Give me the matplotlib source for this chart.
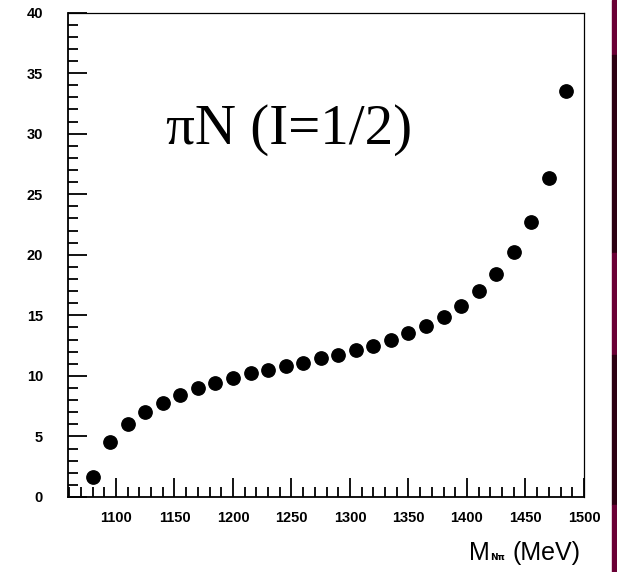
import numpy as np
import matplotlib.pyplot as plt
from matplotlib.patches import Rectangle
from matplotlib.ticker import MultipleLocator

# masa invariante N-pi (MeV) y valores
m_npi = [1080, 1095, 1110, 1125, 1140, 1155, 1170, 1185, 1200, 1215,
         1230, 1245, 1260, 1275, 1290, 1305, 1320, 1335, 1350, 1365,
         1380, 1395, 1410, 1425, 1440, 1455, 1470, 1485]
valores = [1.65, 4.5, 6.0, 7.05, 7.8, 8.4, 9.0, 9.45, 9.85, 10.2,
           10.5, 10.8, 11.1, 11.45, 11.75, 12.1, 12.5, 12.95, 13.5, 14.15,
           14.9, 15.8, 17.0, 18.45, 20.25, 22.7, 26.35, 33.5]
xticks = [1100, 1150, 1200, 1250, 1300, 1350, 1400, 1450, 1500]

fig = plt.figure(figsize=(6.17, 5.72), dpi=100)
ax = fig.add_axes([68/617, 75/572, 516/617, 484.5/572])

ax.plot(m_npi, valores, 'o', color='black', markersize=9.6)

ax.set_xlim(1059, 1500)
ax.set_ylim(0, 40)
ax.set_xticks(xticks)
ax.set_xticklabels([str(t) for t in xticks])
ax.xaxis.set_minor_locator(MultipleLocator(10))
ax.yaxis.set_major_locator(MultipleLocator(5))
ax.yaxis.set_minor_locator(MultipleLocator(1))
ax.tick_params(which='both', direction='in', top=False, right=False, width=1.3)
ax.tick_params(which='major', length=14)
ax.tick_params(which='minor', length=7.5)
ax.tick_params(axis='x', pad=10)
ax.tick_params(axis='y', pad=18)
for lab in ax.get_xticklabels() + ax.get_yticklabels():
    lab.set_fontfamily('Liberation Sans')
    lab.set_fontweight('bold')
    lab.set_fontsize(10.5)

ax.spines['left'].set_linewidth(1.3)
ax.spines['bottom'].set_linewidth(1.3)
ax.spines['top'].set_linewidth(0.9)
ax.spines['right'].set_linewidth(0.9)

fig.text(166/617, 1 - 144/572, 'πN (I=1/2)', fontfamily='Liberation Serif',
         fontsize=41, va='baseline')

# etiqueta del eje x
fig.text(469/617, 1 - 560/572, 'M', fontfamily='Liberation Sans', fontsize=18, va='baseline')
fig.text(490/617, 1 - 560/572, 'Nπ', fontfamily='DejaVu Sans', fontsize=6.5,
         fontweight='bold', va='baseline')
fig.text(581/617, 1 - 560/572, '(MeV)', fontfamily='Liberation Sans', fontsize=18,
         va='baseline', ha='right')

# franja decorativa a la derecha
franjas = [(0, 55, '#6a0035'), (55, 253, '#2c0012'), (253, 355, '#6a0035'),
           (355, 505, '#2c0012'), (505, 572, '#6a0035')]
for y0, y1, c in franjas:
    fig.patches.append(Rectangle((612/617, 1 - y1/572), 5/617, (y1 - y0)/572,
                                 transform=fig.transFigure, color=c, zorder=0))

fig.savefig('out.png', dpi=100)
